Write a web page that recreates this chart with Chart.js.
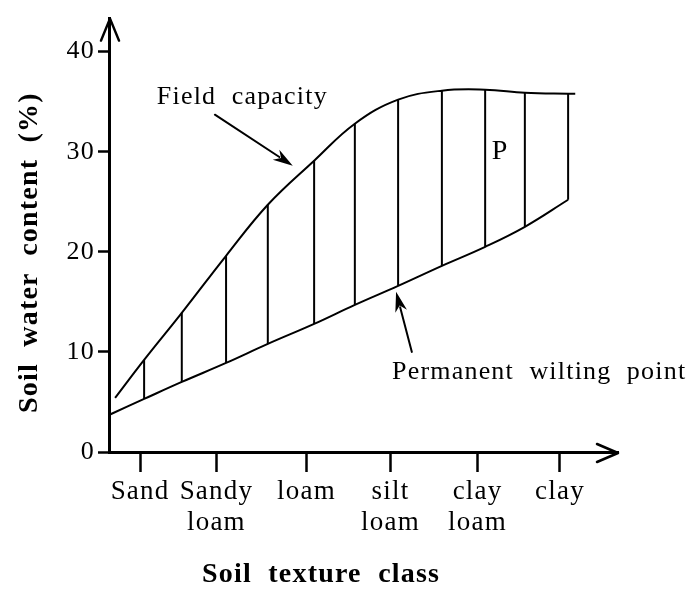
<!DOCTYPE html>
<html>
<head>
<meta charset="utf-8">
<script src="https://cdn.jsdelivr.net/npm/chart.js@4.4.1/dist/chart.umd.min.js"></script>
<style>
  html, body { margin: 0; padding: 0; background: #fff; }
  canvas { display: block; }
</style>
</head>
<body>
<canvas id="c" width="691" height="592"></canvas>
<script>
// ---- data ----
// x positions are in a 0..100 axis unit (y-axis = 0, arrow tip = 100)
const categories = [["Sand"], ["Sandy", "loam"], ["loam"], ["silt", "loam"], ["clay", "loam"], ["clay"]];
const categoryPos = [6.1, 21.1, 38.8, 55.3, 72.4, 88.6];
const yTickValues = [0, 10, 20, 30, 40];

const hatchX      = [6.9, 14.3, 23.0, 31.2, 40.3, 48.3, 56.8, 65.4, 73.9, 81.7, 90.2];
const fieldCap    = [9.2, 13.9, 19.6, 24.7, 29.1, 32.8, 35.2, 36.1, 36.2, 35.9, 35.8];
const wiltPoint   = [5.3, 7.0, 8.9, 10.8, 12.8, 14.7, 16.6, 18.6, 20.5, 22.5, 25.2];

const fcStart = { x: 1.2, y: 5.4 };
const fcEnd   = { x: 91.6, y: 35.8 };
const wpStart = { x: 0.0, y: 3.7 };

// ---- build datasets ----
const fcData = [fcStart].concat(hatchX.map((x, i) => ({ x: x, y: fieldCap[i] }))).concat([fcEnd]);
const wpData = [wpStart].concat(hatchX.map((x, i) => ({ x: x, y: wiltPoint[i] })));
const hatchData = [];
hatchX.forEach((x, i) => {
  hatchData.push({ x: x, y: wiltPoint[i] });
  hatchData.push({ x: x, y: fieldCap[i] });
  hatchData.push({ x: x, y: null });
});

const SERIF = "'Liberation Serif', 'Times New Roman', serif";

// annotations (data units)
const notes = {
  fcLabel: { text: "Field  capacity", x: 9.4, y: 34.8, size: 26 },
  wpLabel: { text: "Permanent  wilting  point", x: 55.6, y: 7.25, size: 26 },
  pLabel:  { text: "P", x: 75.2, y: 29.3, size: 28 },
  fcArrow: { from: [20.8, 33.7], to: [36.1, 28.6] },
  wpArrow: { from: [59.5, 10.0], to: [56.4, 16.0] }
};

const decor = {
  id: 'decor',
  beforeDraw(chart) {
    const ctx = chart.ctx;
    ctx.save();
    ctx.fillStyle = '#fff';
    ctx.fillRect(0, 0, chart.width, chart.height);
    ctx.restore();
    ctx.letterSpacing = '1.2px';
  },
  afterDraw(chart) {
    const ctx = chart.ctx;
    const xs = chart.scales.x, ys = chart.scales.y;
    const ca = chart.chartArea;
    ctx.save();
    ctx.strokeStyle = '#000';
    ctx.fillStyle = '#000';
    ctx.lineCap = 'round';
    ctx.lineJoin = 'round';

    // open arrow heads on axes
    ctx.lineWidth = 2.5;
    ctx.beginPath();
    ctx.moveTo(ca.left - 8, ca.top + 22);
    ctx.lineTo(ca.left + 1, ca.top);
    ctx.lineTo(ca.left + 10, ca.top + 22);
    ctx.stroke();
    ctx.beginPath();
    ctx.moveTo(ca.right - 21, ca.bottom - 8);
    ctx.lineTo(ca.right, ca.bottom + 1);
    ctx.lineTo(ca.right - 21, ca.bottom + 10);
    ctx.stroke();

    // annotation arrows
    function arrow(a) {
      const x1 = xs.getPixelForValue(a.from[0]), y1 = ys.getPixelForValue(a.from[1]);
      const x2 = xs.getPixelForValue(a.to[0]),   y2 = ys.getPixelForValue(a.to[1]);
      const ang = Math.atan2(y2 - y1, x2 - x1);
      const L = 20, W = 6;
      ctx.lineWidth = 2;
      ctx.beginPath();
      ctx.moveTo(x1, y1);
      ctx.lineTo(x2 - Math.cos(ang) * L * 0.8, y2 - Math.sin(ang) * L * 0.8);
      ctx.stroke();
      ctx.beginPath();
      ctx.moveTo(x2, y2);
      ctx.lineTo(x2 - Math.cos(ang) * L - Math.sin(ang) * W, y2 - Math.sin(ang) * L + Math.cos(ang) * W);
      ctx.lineTo(x2 - Math.cos(ang) * L * 0.7, y2 - Math.sin(ang) * L * 0.7);
      ctx.lineTo(x2 - Math.cos(ang) * L + Math.sin(ang) * W, y2 - Math.sin(ang) * L - Math.cos(ang) * W);
      ctx.closePath();
      ctx.fill();
    }
    arrow(notes.fcArrow);
    arrow(notes.wpArrow);

    // annotation texts
    ctx.letterSpacing = '1.2px';
    ctx.textBaseline = 'alphabetic';
    ctx.textAlign = 'left';
    [notes.fcLabel, notes.wpLabel, notes.pLabel].forEach(n => {
      ctx.font = n.size + 'px ' + SERIF;
      ctx.fillText(n.text, xs.getPixelForValue(n.x), ys.getPixelForValue(n.y));
    });

    // axis titles
    ctx.font = 'bold 28px ' + SERIF;
    ctx.fillText("Soil  texture  class", 202, 582);
    ctx.save();
    ctx.translate(37, 413);
    ctx.rotate(-Math.PI / 2);
    ctx.fillText("Soil  water  content  (%)", 0, 0);
    ctx.restore();

    ctx.restore();
  }
};

new Chart(document.getElementById('c'), {
  type: 'line',
  data: {
    datasets: [
      { label: 'Field capacity', data: fcData, borderColor: '#000', borderWidth: 2,
        pointRadius: 0, tension: 0.4, fill: false },
      { label: 'Permanent wilting point', data: wpData, borderColor: '#000', borderWidth: 2,
        pointRadius: 0, tension: 0.4, fill: false },
      { label: 'P', data: hatchData, borderColor: '#000', borderWidth: 2,
        pointRadius: 0, tension: 0, spanGaps: false, fill: false }
    ]
  },
  options: {
    responsive: false,
    animation: false,
    events: [],
    layout: { padding: { top: 10, right: 73, left: 0, bottom: 0 } },
    plugins: { legend: { display: false }, tooltip: { enabled: false } },
    scales: {
      x: {
        type: 'linear', min: 0, max: 100,
        afterFit(s) { s.height = 140; },
        afterBuildTicks(s) { s.ticks = categoryPos.map(v => ({ value: v })); },
        grid: { drawOnChartArea: false, drawTicks: true, tickLength: 20, tickWidth: 2.5, tickColor: '#000' },
        border: { display: true, color: '#000', width: 3 },
        ticks: {
          autoSkip: false, maxRotation: 0, padding: 4, color: '#000',
          font: { family: SERIF, size: 27, lineHeight: 1.15 },
          callback: (v, i) => categories[i]
        }
      },
      y: {
        type: 'linear', min: 0, max: 43.3,
        afterFit(s) { s.width = 109; },
        afterBuildTicks(s) { s.ticks = yTickValues.map(v => ({ value: v })); },
        grid: { drawOnChartArea: false, drawTicks: true, tickLength: 11, tickWidth: 2.5, tickColor: '#000' },
        border: { display: true, color: '#000', width: 3 },
        ticks: {
          padding: 3, color: '#000',
          font: { family: SERIF, size: 26 },
          callback: v => String(v)
        }
      }
    }
  },
  plugins: [decor]
});
</script>
</body>
</html>
